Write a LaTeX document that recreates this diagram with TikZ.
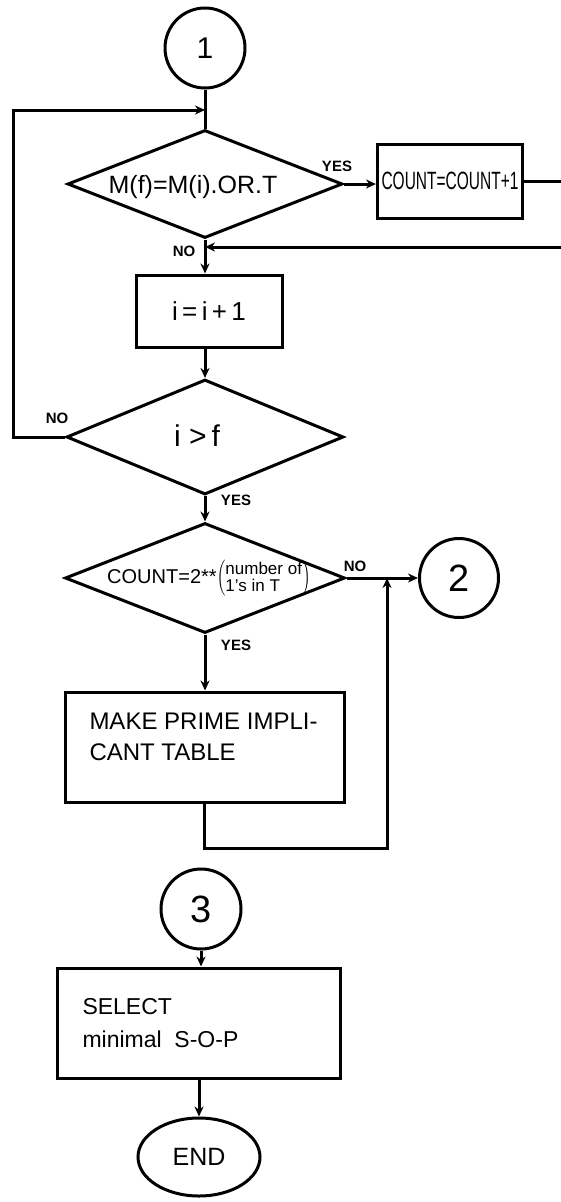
\documentclass[tikz,border=0pt]{standalone}
\usepackage{fontspec}
\setmainfont{Liberation Sans}
\usetikzlibrary{shapes.geometric,arrows.meta}
\begin{document}
\begin{tikzpicture}[x=1pt,y=-1pt,
  line width=3pt,
  arr/.style={-{Stealth[length=10pt,width=9pt]}},
  dia/.style={diamond,draw,line width=3pt,inner sep=0pt},
  boxn/.style={rectangle,draw,line width=3pt,inner sep=0pt},
  conn/.style={circle,draw,line width=3pt,inner sep=0pt,minimum size=80pt},
  lbl/.style={font=\fontsize{15}{15}\selectfont\bfseries, inner sep=0pt},
  txt/.style={inner sep=0pt},
]
\useasboundingbox[fill=white] (0,0) rectangle (560,1202);

% nodes
\node[conn] (c1) at (205,48) {\fontsize{30}{30}\selectfont 1};
\node[dia, minimum width=275pt, minimum height=108pt] (d1) at (205,184) {};
\node[txt] (t1) at (193,187) {\fontsize{25}{25}\selectfont M(f)=M(i).OR.T};
\node[boxn, minimum width=145pt, minimum height=74pt] (cnt) at (450,181)
  {\scalebox{0.62}[1]{\fontsize{25}{25}\selectfont COUNT=COUNT+1}};
\node[boxn, minimum width=146pt, minimum height=72pt] (ib) at (209,311)
  {\fontsize{26}{26}\selectfont i\,=\,i\,+\,1};
\node[dia, minimum width=277pt, minimum height=115pt] (d2) at (205,437) {};
\node[txt] (t2) at (197,436) {\fontsize{30}{30}\selectfont i\ >\,f};
\node[dia, minimum width=280pt, minimum height=110pt] (d3) at (205,578) {};
\node[txt] (t3) at (209,578) {\fontsize{20}{20}\selectfont COUNT=2**$\left(\mbox{\fontsize{17}{15}\selectfont\begin{tabular}{@{}l@{}}number of\\1's in T\end{tabular}}\right)$};
\node[conn, minimum size=79pt] (c2) at (459,578) {\fontsize{38}{38}\selectfont 2};
\node[boxn, minimum width=279pt, minimum height=110pt] (mk) at (204.5,747) {};
\node[txt, anchor=west, align=left, font=\fontsize{24}{31}\selectfont] (mkt) at (88,737)
  {MAKE PRIME IMPLI-\\CANT TABLE};
\node[conn] (c3) at (201,909) {\fontsize{38}{38}\selectfont 3};
\node[boxn, minimum width=283pt, minimum height=110pt] (sel) at (198.5,1023) {};
\node[txt, anchor=west, align=left, font=\fontsize{23}{33}\selectfont] (selt) at (81,1023)
  {SELECT\\minimal\ \ S-O-P};
\node[ellipse, draw, line width=3pt, inner sep=0pt, minimum width=122pt, minimum height=78pt]
  (end) at (199,1157) {\fontsize{25}{25}\selectfont END};

% labels
\node[lbl] (y1) at (337,166) {YES};
\node[lbl] (n1) at (184,251) {NO};
\node[lbl] (n2) at (57,418) {NO};
\node[lbl] (y2) at (236,500) {YES};
\node[lbl] (n3) at (355,566) {NO};
\node[lbl] (y3) at (236,645) {YES};

% helper coordinates
\coordinate (lpx) at (13,110);
\coordinate (j1) at (205,110);
\coordinate (rx1) at (575,181);
\coordinate (j2) at (205,247);
\coordinate (bx) at (387,848);
\coordinate (j3) at (387,578);

% connectors
\draw (c1.south) -- (d1.north);
\draw[arr] (d2.west) -| (lpx) -- (j1);
\draw[arr] (d1.east) -- (d1.east -| cnt.west);
\draw[arr] (cnt.east) -- (cnt.east -| rx1) |- (j2);
\draw[arr] (d1.south) -- (d1.south |- ib.north);
\draw[arr] (ib.south -| d2.north) -- (d2.north);
\draw[arr] (d2.south) -- (d3.north);
\draw[arr] (d3.east) -- (c2.west);
\draw[arr] (d3.south) -- (d3.south |- mk.north);
\draw[arr] (mk.south) |- (bx) -- (j3);
\draw[arr] (c3.south) -- (c3.south |- sel.north);
\draw[arr] (sel.south -| end.north) -- (end.north);
\end{tikzpicture}
\end{document}
